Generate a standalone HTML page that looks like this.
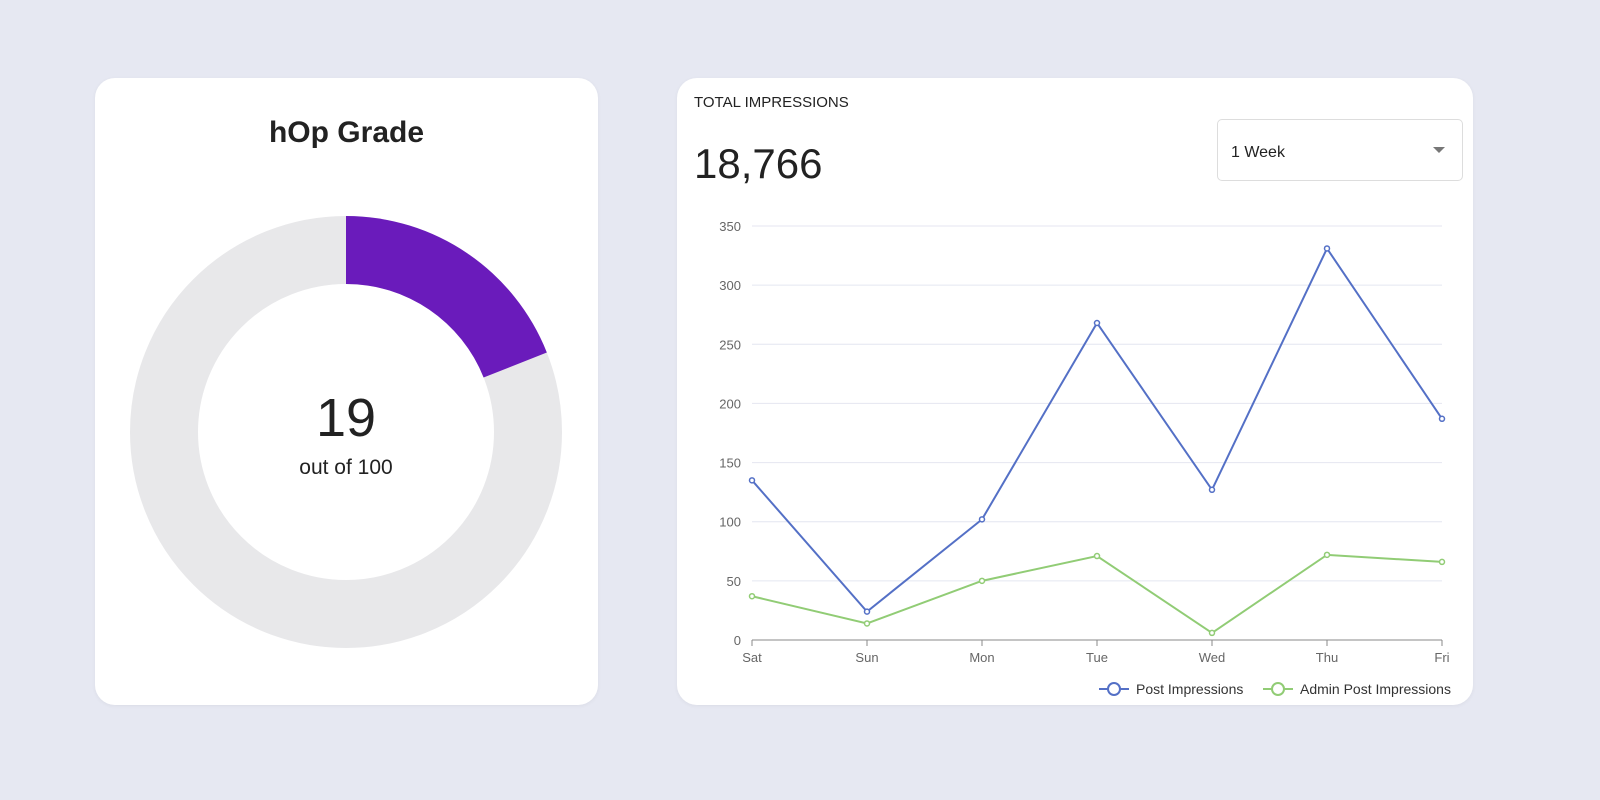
<!DOCTYPE html>
<html><head><meta charset="utf-8"><style>
body{margin:0;width:1600px;height:800px;background:#e6e8f2;font-family:"Liberation Sans",sans-serif;position:relative;overflow:hidden}
.card{position:absolute;background:#fff;border-radius:20px;box-shadow:0 1px 4px rgba(0,0,0,0.05)}
</style></head><body>
<div class="card" style="left:95px;top:78px;width:503px;height:627px">
  <div style="position:absolute;top:38px;width:100%;text-align:center;font-size:30px;font-weight:bold;color:#222">hOp Grade</div>
</div>
<svg width="1600" height="800" style="position:absolute;left:0;top:0">
  <circle cx="346" cy="432" r="182" fill="none" stroke="#e8e8ea" stroke-width="68"/>
  <path id="arc" fill="#6a1bbb"/>
  <text x="346" y="436" text-anchor="middle" font-size="54" fill="#222" font-family="Liberation Sans">19</text>
  <text x="346" y="474" text-anchor="middle" font-size="21" fill="#222" font-family="Liberation Sans">out of 100</text>
</svg>
<div class="card" style="left:677px;top:78px;width:796px;height:627px">
  <div style="position:absolute;left:17px;top:16px;font-size:15px;color:#222">TOTAL IMPRESSIONS</div>
  <div style="position:absolute;left:17px;top:62px;font-size:42px;color:#222">18,766</div>
  <div style="position:absolute;left:540px;top:41px;width:246px;height:62px;border:1px solid #ddd;border-radius:5px;box-sizing:border-box">
    <span style="position:absolute;left:13px;top:24px;font-size:16px;color:#222">1 Week</span>
    <span style="position:absolute;right:17px;top:27px;width:0;height:0;border-left:6px solid transparent;border-right:6px solid transparent;border-top:6px solid #777"></span>
  </div>
</div>
<svg id="chart" width="1600" height="800" style="position:absolute;left:0;top:0;font-family:'Liberation Sans',sans-serif"></svg>
<script>
const categories=["Sat","Sun","Mon","Tue","Wed","Thu","Fri"];
const postImpressions=[135,24,102,268,127,331,187];
const adminImpressions=[37,14,50,71,6,72,66];
const yTicks=[0,50,100,150,200,250,300,350];
const grade=19;
const NS="http://www.w3.org/2000/svg";
// donut arc
(function(){const cx=346,cy=432,R=216,r=148,a=grade/100*2*Math.PI;
const p=(rad,ang)=>[cx+rad*Math.sin(ang),cy-rad*Math.cos(ang)];
const [x1,y1]=p(R,0),[x2,y2]=p(R,a),[x3,y3]=p(r,a),[x4,y4]=p(r,0);const lg=a>Math.PI?1:0;
document.getElementById('arc').setAttribute('d',`M${x1},${y1}A${R},${R} 0 ${lg} 1 ${x2},${y2}L${x3},${y3}A${r},${r} 0 ${lg} 0 ${x4},${y4}Z`);})();
const svg=document.getElementById('chart');
const x=i=>752+i*115, y=v=>640-v*(414/350);
function el(t,a){const e=document.createElementNS(NS,t);for(const k in a)e.setAttribute(k,a[k]);svg.appendChild(e);return e;}
yTicks.forEach(v=>{
  const g=el('line',{x1:752,x2:1442,y1:y(v),y2:y(v),stroke:v?'#e4e6f0':'#888','stroke-width':1});
  
  
  const t=el('text',{x:741,y:y(v)+5,'text-anchor':'end','font-size':13,fill:'#666'});t.textContent=v;
  
  
});
categories.forEach((c,i)=>{
  const tk=el('line',{x1:x(i),x2:x(i),y1:640,y2:646,stroke:'#888'});
  
  
  const t=el('text',{x:x(i),y:662,'text-anchor':'middle','font-size':13,fill:'#666'});t.textContent=c;
  
  
});
function series(data,color,name){
  const l=el('polyline',{points:data.map((v,i)=>x(i)+','+y(v)).join(' '),fill:'none',stroke:color,'stroke-width':2});
  
  
  data.forEach((v,i)=>{const c=el('circle',{cx:x(i),cy:y(v),r:2.5,fill:'#fff',stroke:color,'stroke-width':1.5});
  
  });
}
series(adminImpressions,'#91cc75','admin-impressions');
series(postImpressions,'#5470c6','post-impressions');
function legend(lx,color,label,name){
  const l=el('line',{x1:lx,x2:lx+30,y1:689,y2:689,stroke:color,'stroke-width':2});
  const c=el('circle',{cx:lx+15,cy:689,r:6,fill:'#fff',stroke:color,'stroke-width':2});
  const t=el('text',{x:lx+37,y:694,'font-size':14,fill:'#333'});t.textContent=label;
  
  
}
legend(1099,'#5470c6','Post Impressions','legend-post-impressions');
legend(1263,'#91cc75','Admin Post Impressions','legend-admin-post-impressions');
</script>
</body></html>
